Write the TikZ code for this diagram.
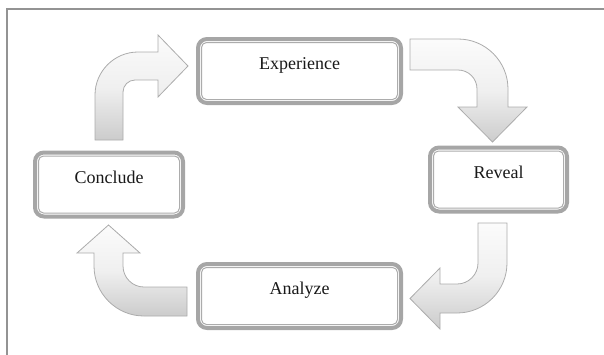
\documentclass[tikz,border=0pt]{standalone}
\usepackage{fontspec}
\setmainfont{Liberation Serif}
\begin{document}
\begin{tikzpicture}[x=1pt,y=-1pt,
  stagebox/.style={draw=gray!70, line width=4pt, fill=white, rounded corners=9pt,
    minimum height=64pt, text height=12pt, text depth=15pt, inner sep=0pt,
    font=\fontsize{18}{21}\selectfont, text=black!90},
  innerline/.style={draw=gray!65, line width=1pt, rounded corners=5pt},
  bentarrow/.style={draw=gray!65, line width=0.8pt, top color=gray!3, bottom color=gray!40, middle color=gray!12},
  framecol/.style={draw=gray!85, line width=1.5pt}]
\useasboundingbox (0,0) rectangle (604,354);
% frame
\coordinate (fa) at (7,360);
\coordinate (fb) at (7,9);
\coordinate (fc) at (610,9);
\draw[framecol] (fa) -- (fb) -- (fc);
% boxes
\node[stagebox, minimum width=203pt] (exp) at (299.5,71) {Experience};
\node[stagebox, minimum width=137pt] (rev) at (498.5,179.5) {Reveal};
\node[stagebox, minimum width=148pt] (con) at (109,184.5) {Conclude};
\node[stagebox, minimum width=203pt] (ana) at (299.5,296) {Analyze};
\foreach \n in {exp,rev,con,ana}
  \draw[innerline] ([shift={(5.5,5.5)}]\n.north west) rectangle ([shift={(-5.5,-5.5)}]\n.south east);
% arrows
\path[bentarrow] (95,140) -- (95,95) .. controls (95,71.3) and (114.3,52) .. (138,52) -- (158,52) -- (158,35) -- (188,66) -- (158,97) -- (158,80) -- (135,80) .. controls (128.4,80) and (123,85.4) .. (123,92) -- (123,140) -- cycle;
\path[bentarrow] (410,39) -- (458,39) .. controls (485.6,39) and (508,61.4) .. (508,89) -- (508,107) -- (527,107) -- (492.5,142) -- (458,107) -- (477,107) -- (477,89) .. controls (477,78.5) and (468.5,70) .. (458,70) -- (410,70) -- cycle;
\path[bentarrow] (478,223) -- (507,223) -- (507,263) .. controls (507,290.6) and (484.6,313) .. (457,313) -- (440,313) -- (440,329) -- (410,298.5) -- (440,268) -- (440,284) -- (457,284) .. controls (468.6,284) and (478,274.6) .. (478,263) -- cycle;
\path[bentarrow] (187,287) -- (144,287) .. controls (132.4,287) and (123,277.6) .. (123,266) -- (123,253) -- (140,253) -- (108.5,225) -- (77,253) -- (94,253) -- (94,266) .. controls (94,293.6) and (116.4,316) .. (144,316) -- (187,316) -- cycle;
\end{tikzpicture}
\end{document}
